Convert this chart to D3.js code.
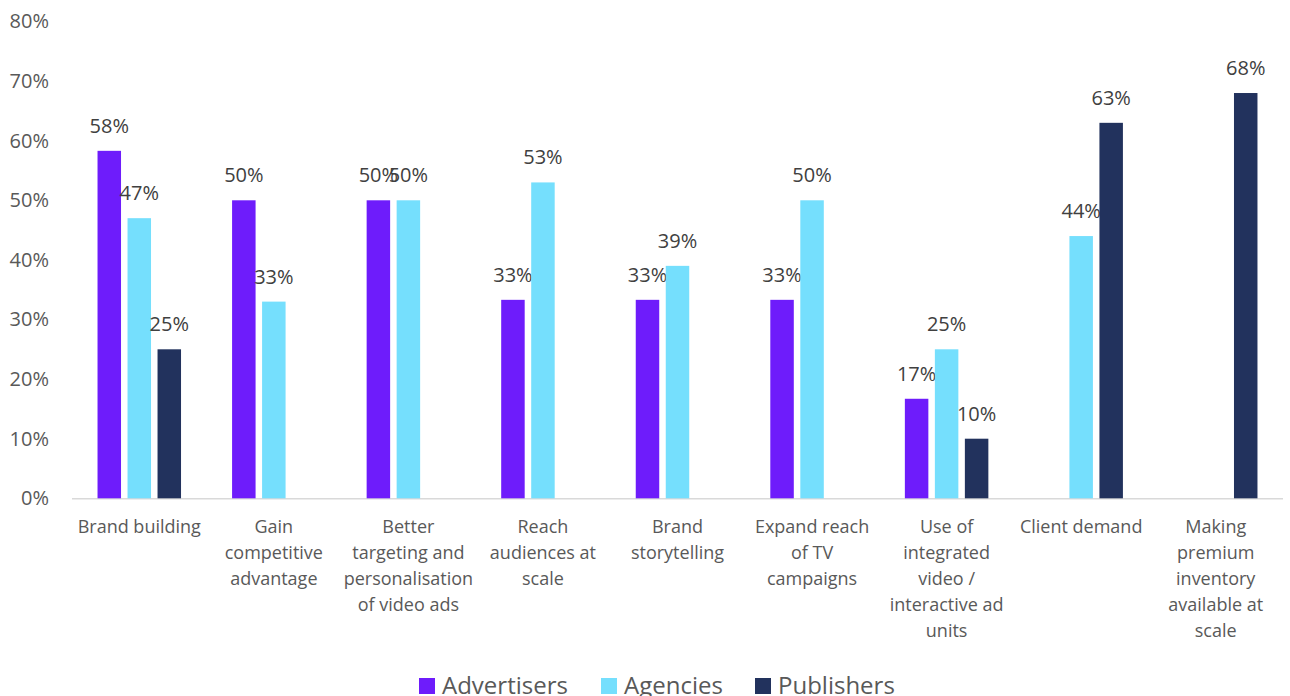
<!DOCTYPE html>
<html><head><meta charset="utf-8">
<script src="https://cdn.jsdelivr.net/npm/d3@7"></script>
<style>html,body{margin:0;padding:0;background:#fff;}svg{display:block;font-family:"Open Sans",sans-serif;}</style>
</head><body>
<svg id="c" width="1290" height="696"></svg>
<script>
const categories = ["Brand building","Gain competitive advantage","Better targeting and personalisation of video ads","Reach audiences at scale","Brand storytelling","Expand reach of TV campaigns","Use of integrated video / interactive ad units","Client demand","Making premium inventory available at scale"];
const categoryLines = [["Brand building"],["Gain","competitive","advantage"],["Better","targeting and","personalisation","of video ads"],["Reach","audiences at","scale"],["Brand","storytelling"],["Expand reach","of TV","campaigns"],["Use of","integrated","video /","interactive ad","units"],["Client demand"],["Making","premium","inventory","available at","scale"]];
const seriesNames = ["Advertisers","Agencies","Publishers"];
const seriesColors = ["#6E1CFB","#75DFFD","#22325D"];
const advertisers = [58.3,50,50,33.3,33.3,33.3,16.7,null,null];
const agencies = [47,33,50,53,39,50,25,44,null];
const publishers = [25,null,null,null,null,null,10,63,68];
const yTicks = [0,10,20,30,40,50,60,70,80];

const svg = d3.select("#c");
const x = d3.scaleBand().domain(categories).range([72,1283]);
const y = d3.scaleLinear().domain([0,80]).range([498.3,21.5]);
const sub = d3.scaleBand().domain(seriesNames).range([-41.75,41.75]).paddingInner(0.217);
const seriesVals = [advertisers,agencies,publishers];

// y axis labels
const yAxis = d3.axisLeft(y).tickValues(yTicks).tickFormat(d=>d+"%").tickSize(0).tickPadding(0);
const yg = svg.append("g").attr("transform","translate(49,0)").call(yAxis);
yg.select(".domain").remove();
yg.selectAll("text").attr("font-size",20).attr("fill","#595959").attr("font-family","Open Sans");

// baseline
svg.append("line").attr("x1",72).attr("x2",1283).attr("y1",y(0)+0.5).attr("y2",y(0)+0.5).attr("stroke","#D9D9D9").attr("stroke-width",1.5);

// bars
seriesNames.forEach((s,si)=>{
  const data = categories.map((c,i)=>({c,v:seriesVals[si][i]})).filter(d=>d.v!=null);
  const g = svg.append("g");
  g.selectAll("rect").data(data).join("rect")
    .attr("x",d=>x(d.c)+x.bandwidth()/2+sub(s))
    .attr("width",sub.bandwidth())
    .attr("y",d=>y(d.v))
    .attr("height",d=>y(0)-y(d.v))
    .attr("fill",seriesColors[si]);
  g.selectAll("text").data(data).join("text")
    .attr("x",d=>x(d.c)+x.bandwidth()/2+sub(s)+sub.bandwidth()/2)
    .attr("y",d=>y(d.v)-18)
    .attr("text-anchor","middle")
    .attr("font-size",20).attr("fill","#404040")
    .text(d=>Math.round(d.v)+"%");
});

// category labels
const cg = svg.append("g");
categories.forEach((c,i)=>{
  const t = cg.append("text").attr("text-anchor","middle").attr("font-size",18).attr("fill","#595959")
    .attr("x",x(c)+x.bandwidth()/2).attr("y",533);
  categoryLines[i].forEach((l,li)=>{
    t.append("tspan").attr("x",x(c)+x.bandwidth()/2).attr("y",533+li*26).text(l);
  });
});

// legend
const legX = [419,601,755];
const lg = svg.append("g");
seriesNames.forEach((s,i)=>{
  lg.append("rect").attr("x",legX[i]).attr("y",678).attr("width",16).attr("height",16).attr("fill",seriesColors[i]);
  lg.append("text").attr("x",legX[i]+23).attr("y",694).attr("font-size",24).attr("fill","#595959").text(s);
});
</script>
</body></html>
